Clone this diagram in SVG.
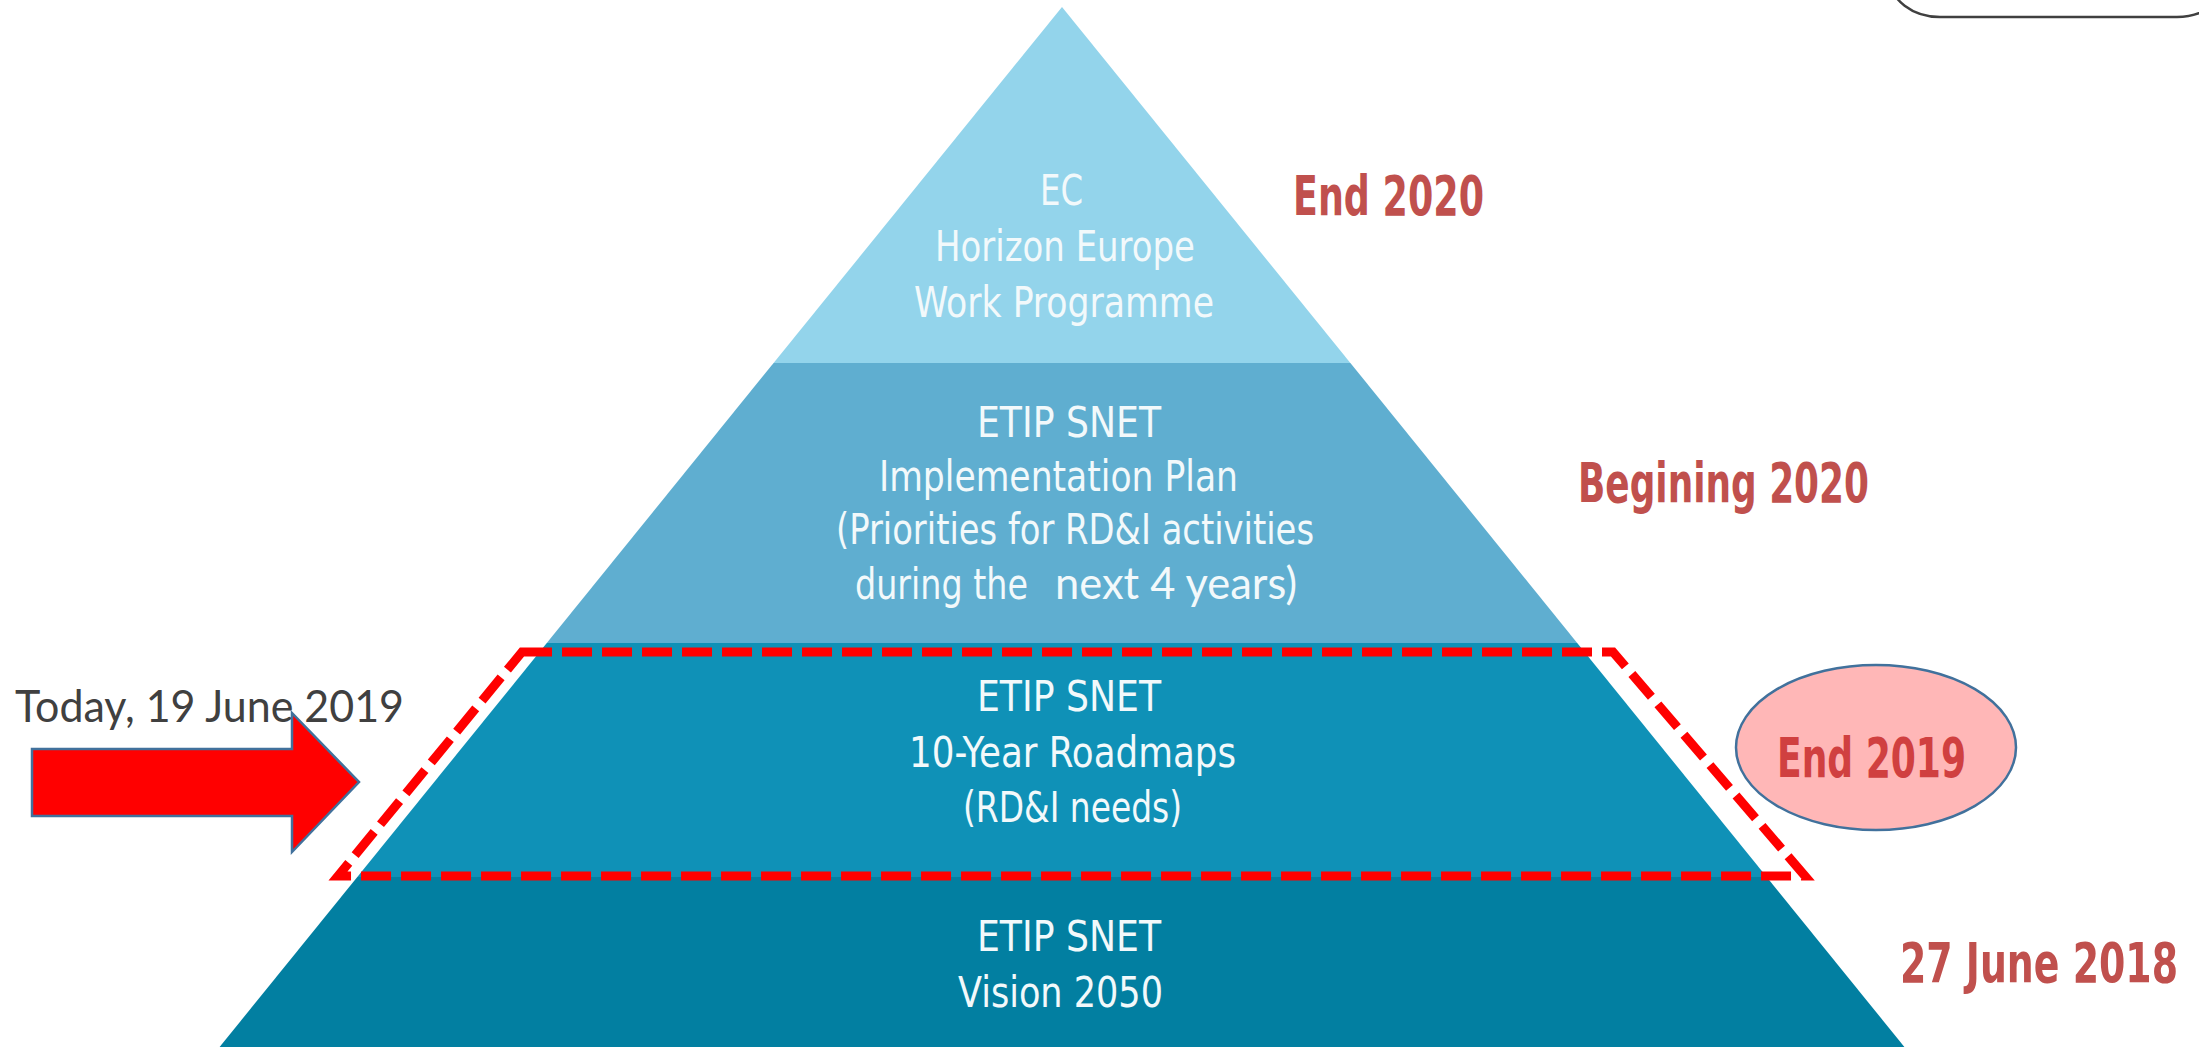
<svg xmlns="http://www.w3.org/2000/svg" width="2199" height="1047" viewBox="0 0 2199 1047">
  <style>
    .pt { font-family: 'DejaVu Sans Condensed', 'Liberation Sans Narrow', 'DejaVu Sans', sans-serif; font-stretch: condensed; font-size: 42px; fill: #F2F9FB; }
    .cal { font-family: Lato, 'Open Sans', 'Liberation Sans', sans-serif; }
    .date { font-family: 'DejaVu Sans Condensed', 'Liberation Sans Narrow', 'DejaVu Sans', sans-serif; font-stretch: condensed; font-weight: bold; font-size: 56px; fill: #C0504D; }
    .outline { stroke: #41719C; stroke-width: 2.5; }
  </style>
  <rect width="2199" height="1047" fill="#FFFFFF"/>

  <g id="corner-box">
    <rect x="1890" y="-60" width="337" height="77" rx="50" ry="50" fill="none" stroke="#404040" stroke-width="2.5"/>
  </g>

  <g id="layer-workprogramme">
    <polygon points="1062,7 1350.4,363 773.6,363" fill="#93D4EB"/>
    <text class="pt" x="1040" y="205" textLength="43" lengthAdjust="spacingAndGlyphs">EC</text>
    <text class="pt" x="935" y="261" textLength="260" lengthAdjust="spacingAndGlyphs">Horizon Europe</text>
    <text class="pt" x="914" y="317" textLength="300" lengthAdjust="spacingAndGlyphs">Work Programme</text>
  </g>

  <g id="layer-implementation">
    <polygon points="773.6,363 1350.4,363 1577.2,643 546.8,643" fill="#5FAED0"/>
    <text class="pt" x="977" y="437" textLength="184" lengthAdjust="spacingAndGlyphs">ETIP SNET</text>
    <text class="pt" x="879" y="491" textLength="359" lengthAdjust="spacingAndGlyphs">Implementation Plan</text>
    <text class="pt" x="836" y="544" textLength="478" lengthAdjust="spacingAndGlyphs">(Priorities for RD&amp;I activities</text>
    <text class="pt" x="855" y="599" textLength="173" lengthAdjust="spacingAndGlyphs">during the</text>
    <text class="cal" x="1055" y="599" font-size="44" fill="#F2F9FB" textLength="242" lengthAdjust="spacingAndGlyphs">next 4 years)</text>
  </g>

  <g id="layer-roadmaps">
    <polygon points="546.8,643 1577.2,643 1766.7,877 357.3,877" fill="#0F91B7"/>
    <text class="pt" x="977" y="711" textLength="184" lengthAdjust="spacingAndGlyphs">ETIP SNET</text>
    <text class="pt" x="909" y="767" textLength="327" lengthAdjust="spacingAndGlyphs">10-Year Roadmaps</text>
    <text class="pt" x="963" y="822" textLength="219" lengthAdjust="spacingAndGlyphs">(RD&amp;I needs)</text>
  </g>

  <g id="layer-vision">
    <polygon points="357.3,877 1766.7,877 1904.4,1047 219.6,1047" fill="#027FA1"/>
    <text class="pt" x="977" y="951" textLength="184" lengthAdjust="spacingAndGlyphs">ETIP SNET</text>
    <text class="pt" x="958" y="1007" textLength="205" lengthAdjust="spacingAndGlyphs">Vision 2050</text>
  </g>

  <g id="highlight-frame">
    <polygon points="522,652 1613,652 1805,876 338,876" fill="none" stroke="#FF0000" stroke-width="9" stroke-dasharray="30 10" stroke-linejoin="miter"/>
  </g>

  <g id="label-end2020">
    <text class="date" x="1293" y="215" textLength="191" lengthAdjust="spacingAndGlyphs">End 2020</text>
  </g>
  <g id="label-begining2020">
    <text class="date" x="1578" y="502" textLength="291" lengthAdjust="spacingAndGlyphs">Begining 2020</text>
  </g>
  <g id="label-end2019">
    <ellipse cx="1876" cy="747.5" rx="140" ry="82.5" fill="#FFB7B7" class="outline"/>
    <text class="date" x="1777" y="777" textLength="189" lengthAdjust="spacingAndGlyphs" style="fill:#D04040">End 2019</text>
  </g>
  <g id="label-june2018">
    <text class="date" x="2178" y="982" text-anchor="end" textLength="278" lengthAdjust="spacingAndGlyphs">27 June 2018</text>
  </g>

  <g id="today-label">
    <text class="cal" x="15" y="722" font-size="44" fill="#404040" textLength="389" lengthAdjust="spacingAndGlyphs">Today, 19 June 2019</text>
  </g>

  <g id="connectors">
    <polygon id="today-arrow" points="32,749 292,749 292,713 359,782 292,852 292,816 32,816" fill="#FF0000" class="outline"/>
  </g>
</svg>
